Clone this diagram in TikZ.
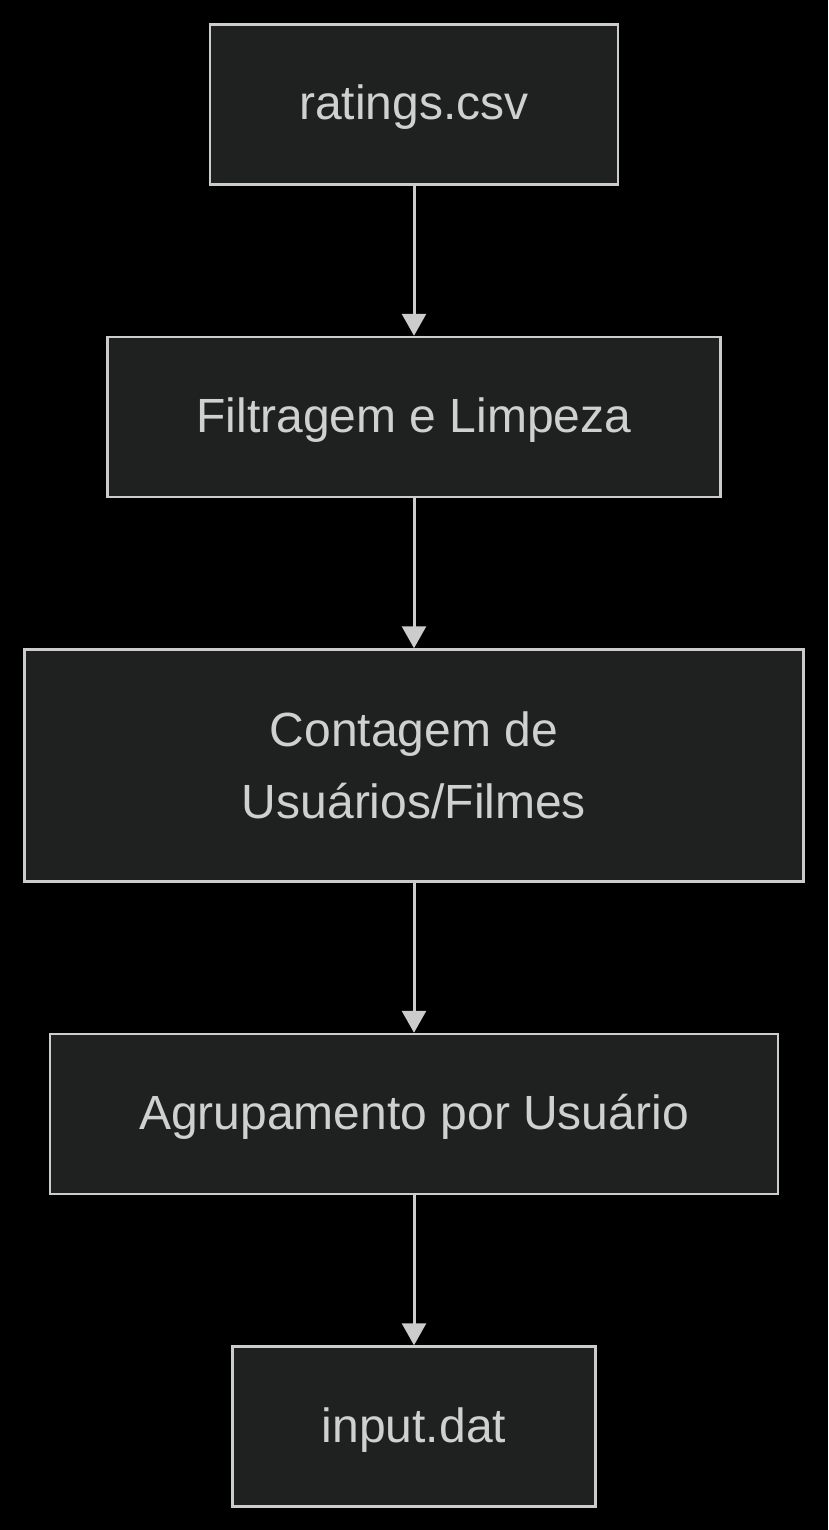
\documentclass[tikz,border=0pt]{standalone}
\usepackage{fontspec}
\setmainfont{Liberation Sans}
\usetikzlibrary{
        arrows.meta,
        backgrounds,
        positioning
    }
\definecolor{boxfill}{HTML}{1F2020}
\definecolor{boxline}{HTML}{CCCCCC}
\definecolor{boxtext}{HTML}{D0D0D0}
\tikzset{>={Triangle[width=24pt,length=22pt,fill=boxline]},node distance=150pt}
\tikzset{stage/.style={draw=boxline,fill=boxfill,line width=2.5pt,text=boxtext,
        inner sep=0pt,align=center,font=\fontsize{48}{72}\selectfont,
        text height=36pt,text depth=5pt,minimum height=160pt}}

\begin{document}
\begin{tikzpicture}
                        \fill[black] (0,0) rectangle (828pt,-1530pt);
                        \useasboundingbox (0,0) rectangle (828pt,-1530pt);
                        \node[stage,minimum width=408pt] (rat) at (414pt,-104.5pt) {ratings.csv};
                        \node[stage,minimum width=613pt] (filt) [below=of rat] {Filtragem e Limpeza};
                        \node[stage,minimum width=779pt,minimum height=232pt,text height=,text depth=] (cont) [below=of filt] {Contagem de\\Usuários/Filmes};
                        \node[stage,minimum width=728pt] (agr) [below=of cont] {Agrupamento por Usuário};
                        \node[stage,minimum width=363pt] (inp) [below=of agr] {input.dat};
                        \path[->,draw=boxline,line width=3pt]
                            (rat)  edge  (filt)
                            (filt) edge  (cont)
                            (cont) edge  (agr)
                            (agr)  edge  (inp);
                    \end{tikzpicture}
\end{document}
